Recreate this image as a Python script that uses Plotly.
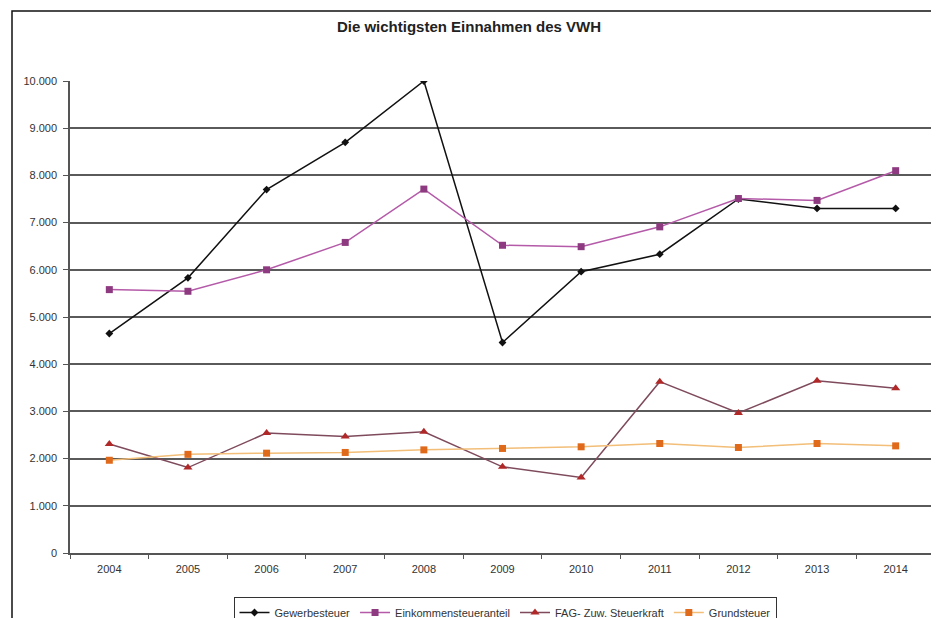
import plotly.graph_objects as go

years = ["2004", "2005", "2006", "2007", "2008", "2009", "2010", "2011", "2012", "2013", "2014"]
gewerbesteuer = [4650, 5830, 7700, 8700, 10000, 4460, 5960, 6330, 7500, 7300, 7300]
einkommensteuer = [5580, 5545, 6000, 6580, 7710, 6520, 6490, 6910, 7510, 7470, 8100]
fag_steuerkraft = [2310, 1810, 2540, 2470, 2570, 1825, 1600, 3630, 2965, 3650, 3490]
grundsteuer = [1965, 2090, 2115, 2130, 2185, 2215, 2250, 2320, 2235, 2320, 2270]
y_ticks = [0, 1000, 2000, 3000, 4000, 5000, 6000, 7000, 8000, 9000, 10000]

FONT = "Liberation Sans, Arial, sans-serif"

fig = go.Figure()
series = [
    ("Gewerbesteuer", gewerbesteuer, "#111111", "#111111", "diamond", 6),
    ("Einkommensteueranteil", einkommensteuer, "#B45AA8", "#8E3A80", "square", 7),
    ("FAG- Zuw. Steuerkraft", fag_steuerkraft, "#7E4A5C", "#B02828", "triangle-up", 8),
    ("Grundsteuer", grundsteuer, "#F2BE78", "#E06A1C", "square", 7),
]
for name, vals, lc, mc, sym, ms in series:
    fig.add_trace(go.Scatter(
        x=years, y=vals, name=name, mode="lines+markers",
        line=dict(color=lc, width=1.5),
        marker=dict(color=mc, symbol=sym, size=ms),
    ))

W, H = 931, 610      # page shows the figure offset by 8px
PW, PH = 865, 472    # plot area size in px
L, T = 62, 73

fig.update_layout(
    width=W, height=H,
    paper_bgcolor="white", plot_bgcolor="white",
    margin=dict(l=L, r=W - L - PW, t=T, b=H - T - PH, autoexpand=False),
    separators=",.",
    font=dict(family=FONT, size=11, color="#333333"),
    title=dict(text="<b>Die wichtigsten Einnahmen des VWH</b>", x=(469 - 8) / W, xanchor="center",
               y=1 - 19 / H, yanchor="middle", font=dict(size=15, color="#222222")),
    showlegend=True,
    legend=dict(orientation="h", x=(505 - 70) / PW, xanchor="center", y=(553 - 597) / PH, yanchor="top",
                bordercolor="#333333", borderwidth=1, font=dict(size=11, color="#333333"),
                itemwidth=30, tracegroupgap=0),
    xaxis=dict(type="category", range=[-0.5, 10.5], showline=True, linecolor="#555555", linewidth=1.5,
               ticks="outside", tickson="boundaries", ticklen=4, tickcolor="#555555",
               ticklabelstandoff=5,
               showgrid=False, automargin=False, tickfont=dict(size=11, color="#333333")),
    yaxis=dict(range=[0, 10000], tickvals=y_ticks, tickformat=",d",
               showline=True, linecolor="#555555", linewidth=1.5,
               ticks="outside", ticklen=5, tickcolor="#555555",
               ticklabelstandoff=4,
               showgrid=True, gridcolor="#5a5a5a", gridwidth=2, automargin=False,
               zeroline=False, tickfont=dict(size=11, color="#333333")),
    shapes=[dict(type="rect", xref="paper", yref="paper", x0=(4 - L) / PW, x1=(928 - L) / PW,
                 y0=-0.3, y1=(T + PH - 3) / PH, line=dict(color="#111111", width=1.5),
                 layer="below")],
)

fig.write_html("out.html")
